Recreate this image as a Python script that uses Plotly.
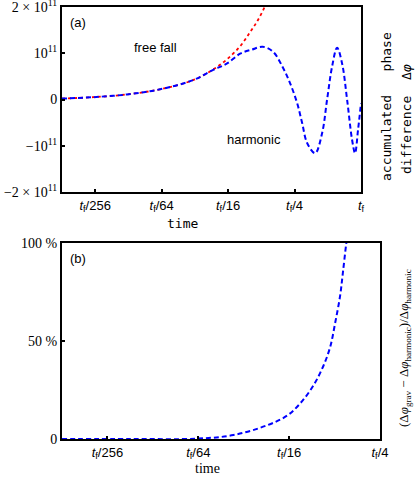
import plotly.graph_objects as go

# time in units of t_f, phase difference in units of 1e11
t_harm = [0.00195, 0.00373, 0.00759, 0.0151, 0.0302, 0.0458, 0.0612, 0.0802, 0.103, 0.129,
          0.160, 0.197, 0.228, 0.264, 0.293, 0.325, 0.384, 0.444, 0.493, 0.547,
          0.607, 0.674, 0.748, 0.830, 0.883, 0.940, 1.0]
phi_harm = [0.02, 0.05, 0.11, 0.22, 0.42, 0.64, 0.78, 0.99, 1.08, 1.14,
            1.03, 0.68, 0.35, -0.08, -0.51, -0.94, -1.16, -0.73, 0.0, 0.71,
            1.12, 0.78, 0.0, -0.87, -1.16, -0.66, -0.08]

t_free = [0.00195, 0.00373, 0.00759, 0.0151, 0.0302, 0.0458, 0.0612, 0.0802, 0.0986, 0.1166, 0.135, 0.145]
phi_free = [0.02, 0.05, 0.11, 0.22, 0.42, 0.65, 0.87, 1.15, 1.45, 1.72, 2.02, 2.25]

# relative difference (percent)
t_rel = [0.00195, 0.00552, 0.0156, 0.0267, 0.0447, 0.0608, 0.0737, 0.090, 0.105, 0.117, 0.126, 0.136, 0.142, 0.149, 0.152]
rel = [0, 0, 0.2, 2, 7, 12, 18, 27, 37, 47, 59, 73, 85, 99, 104]

xt_top = [1/256, 1/64, 1/16, 1/4, 1]
xt_top_text = ["<i>t</i><sub>f</sub>/256", "<i>t</i><sub>f</sub>/64", "<i>t</i><sub>f</sub>/16",
               "<i>t</i><sub>f</sub>/4", "<i>t</i><sub>f</sub>"]
yt_top = [-2e11, -1e11, 0, 1e11, 2e11]
yt_top_text = ["−2 × 10<sup>11</sup>", "−10<sup>11</sup>", "0", "10<sup>11</sup>", "2 × 10<sup>11</sup>"]
yt_bot = [0, 50, 100]
yt_bot_text = ["0", "50 %", "100 %"]

W, H = 416, 477
SANS = "Liberation Sans"
SERIF = "Liberation Serif"
MONO = "DejaVu Sans Mono"

fig = go.Figure()
fig.add_trace(go.Scatter(x=t_free, y=[v * 1e11 for v in phi_free], mode="lines", line_shape="spline",
                         line=dict(color="red", width=1.8, dash="dot"), xaxis="x", yaxis="y"))
fig.add_trace(go.Scatter(x=t_harm, y=[v * 1e11 for v in phi_harm], mode="lines", line_shape="spline",
                         line=dict(color="blue", width=2, dash="5px,3px"), xaxis="x", yaxis="y"))
fig.add_trace(go.Scatter(x=t_rel, y=rel, mode="lines", line_shape="spline",
                         line=dict(color="blue", width=2, dash="5px,3px"), xaxis="x2", yaxis="y2"))

axis_style = dict(showline=True, linecolor="black", linewidth=2, mirror=True, ticks="inside",
                  ticklen=3, tickwidth=1.5, tickcolor="black", showgrid=False, zeroline=False,
                  automargin=False, ticklabeloverflow="allow")

fig.update_layout(
    width=W, height=H, margin=dict(l=0, r=0, t=0, b=0),
    plot_bgcolor="white", paper_bgcolor="white", showlegend=False,
    xaxis=dict(axis_style, type="log", domain=[62 / W, 361 / W], range=[-2.709, 0],
               tickvals=xt_top, ticktext=xt_top_text, anchor="y",
               tickfont=dict(family=SANS, size=13, color="black")),
    yaxis=dict(axis_style, domain=[1 - 192 / H, 1 - 7 / H], range=[-2e11, 2e11],
               tickvals=yt_top, ticktext=yt_top_text, anchor="x",
               tickfont=dict(family=SERIF, size=14, color="black")),
    xaxis2=dict(axis_style, type="log", domain=[62 / W, 380 / W], range=[-2.709, -0.602],
                tickvals=xt_top[:4], ticktext=xt_top_text[:4], anchor="y2",
                tickfont=dict(family=SANS, size=13, color="black")),
    yaxis2=dict(axis_style, domain=[1 - 439 / H, 1 - 243 / H], range=[0, 100],
                tickvals=yt_bot, ticktext=yt_bot_text, anchor="x2",
                tickfont=dict(family=SERIF, size=14, color="black")),
)

def note(text, x, y, font, size, angle=0):
    fig.add_annotation(text=text, x=x / W, y=1 - y / H, xref="paper", yref="paper",
                       xanchor="center", yanchor="middle",
                       showarrow=False, textangle=angle,
                       font=dict(family=font, size=size, color="black"))

note("(a)", 78, 22, SANS, 13)
note("free fall", 155, 47, SANS, 13)
note("harmonic", 254, 139, SANS, 13)
note("time", 182, 223, MONO, 13)
note("accumulated&nbsp;&nbsp;&nbsp;phase", 386, 107, MONO, 13, -90)
note("difference&nbsp;&nbsp;Δ<i>φ</i>", 406, 119, MONO, 13, -90)
note("(b)", 78, 258, SANS, 13)
note("time", 207, 468, SERIF, 14)
note("(Δ<i>φ</i><sub>grav</sub> − Δ<i>φ</i><sub>harmonic</sub>)/Δ<i>φ</i><sub>harmonic</sub>",
     404, 348, SERIF, 13, -90)

fig.write_html("out.html", config={"displayModeBar": False},
               post_script="document.body.style.margin='0';")
